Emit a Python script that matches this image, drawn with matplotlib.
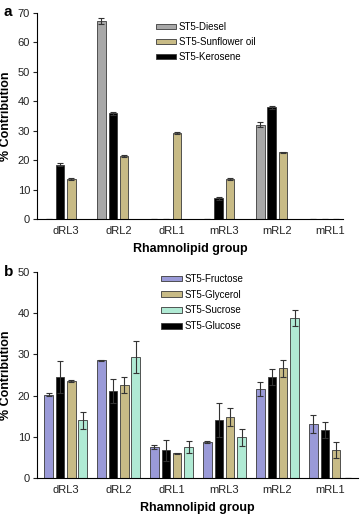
import matplotlib
matplotlib.use("Agg")
import matplotlib.pyplot as plt
import numpy as np

plt.rcParams['font.family'] = ['Liberation Sans', 'DejaVu Sans']

groups = ["dRL3", "dRL2", "dRL1", "mRL3", "mRL2", "mRL1"]

# Panel a
a_labels = ["ST5-Diesel", "ST5-Sunflower oil", "ST5-Kerosene"]
diesel = [0, 67.3, 0, 0, 32.1, 0]
diesel_err = [0, 1.1, 0, 0, 1.0, 0]
sunflower = [13.5, 21.4, 29.3, 13.5, 22.7, 0]
sunflower_err = [0.4, 0.2, 0.3, 0.3, 0.2, 0]
kerosene = [18.5, 36.0, 0, 7.1, 38.0, 0]
kerosene_err = [0.6, 0.5, 0, 0.5, 0.5, 0]

# Panel b
b_labels = ["ST5-Fructose", "ST5-Glycerol", "ST5-Sucrose", "ST5-Glucose"]
fructose = [20.2, 28.6, 7.5, 8.7, 21.7, 13.1]
fructose_err = [0.4, 0.1, 0.4, 0.2, 1.7, 2.1]
glycerol = [23.6, 22.5, 6.0, 14.8, 26.6, 6.8]
glycerol_err = [0.2, 1.9, 0.1, 2.1, 2.1, 1.9]
sucrose = [14.0, 29.3, 7.5, 9.9, 38.9, 0]
sucrose_err = [2.0, 3.9, 1.5, 2.1, 1.9, 0]
glucose = [24.5, 21.2, 6.7, 14.1, 24.5, 11.7]
glucose_err = [3.9, 2.9, 2.5, 4.1, 2.0, 1.9]

fig = plt.figure(figsize=(3.6, 5.15), dpi=100)
W, H = 360, 515
axa = fig.add_axes([37 / W, 1 - 219 / H, (343 - 37) / W, (219 - 13) / H])
axb = fig.add_axes([37 / W, 1 - 478 / H, (358 - 37) / W, (478 - 272) / H])

x = np.arange(len(groups))
step = 0.215
bw = 0.16
edge = "#3a3a3a"
ekw = dict(elinewidth=0.8, capthick=0.8, ecolor="#333333")

def bars(ax, slot, vals, errs, color, label):
    ax.bar(x + (slot - 1.5) * step, vals, bw, color=color, edgecolor=edge,
           linewidth=0.6, label=label, yerr=errs, capsize=2.2,
           error_kw=ekw)

# a: slots Diesel(0), Kerosene(1), Sunflower(2)
bars(axa, 0, diesel, diesel_err, "#a8a8a8", a_labels[0])
bars(axa, 2, sunflower, sunflower_err, "#c8bb86", a_labels[1])
bars(axa, 1, kerosene, kerosene_err, "#000000", a_labels[2])

# b: slots Fructose(0), Glucose(1), Glycerol(2), Sucrose(3)
bars(axb, 0, fructose, fructose_err, "#9a9ad8", b_labels[0])
bars(axb, 2, glycerol, glycerol_err, "#c8bb86", b_labels[1])
bars(axb, 3, sucrose, sucrose_err, "#b0ead4", b_labels[2])
bars(axb, 1, glucose, glucose_err, "#000000", b_labels[3])

axa.set_xlim(-0.54, 5.24)
axb.set_xlim(-0.54, 5.52)
axa.set_ylim(0, 70)
axb.set_ylim(0, 50)
axa.set_yticks(np.arange(0, 71, 10))
axb.set_yticks(np.arange(0, 51, 10))

for ax in (axa, axb):
    ax.spines["top"].set_visible(False)
    ax.spines["right"].set_visible(False)
    ax.spines["left"].set_linewidth(0.8)
    ax.spines["bottom"].set_linewidth(0.8)
    ax.set_xticks(x)
    ax.set_xticklabels(groups)
    ax.tick_params(axis="x", length=0, pad=5, labelsize=8, colors="#222222")
    ax.tick_params(axis="y", length=3, width=0.8, pad=2, labelsize=8, colors="#222222")
    ax.set_ylabel("% Contribution", fontsize=9, fontweight="bold", labelpad=4)
    ax.set_xlabel("Rhamnolipid group", fontsize=9, fontweight="bold", labelpad=5)

fig.text(4 / W, 1 - 12 / H, "a", fontsize=11, fontweight="bold", ha="left", va="center")
fig.text(4 / W, 1 - 272 / H, "b", fontsize=11, fontweight="bold", ha="left", va="center")

axa.legend(loc="upper left", bbox_to_anchor=(0.375, 0.975), frameon=False,
           fontsize=7, handlelength=2.1, handleheight=0.5, labelspacing=0.5,
           handletextpad=0.3, borderaxespad=0)
axb.legend(loc="upper left", bbox_to_anchor=(0.375, 1.01), frameon=False,
           fontsize=7, handlelength=2.1, handleheight=0.5, labelspacing=0.6,
           handletextpad=0.3, borderaxespad=0)

fig.savefig("out.png", dpi=100)
